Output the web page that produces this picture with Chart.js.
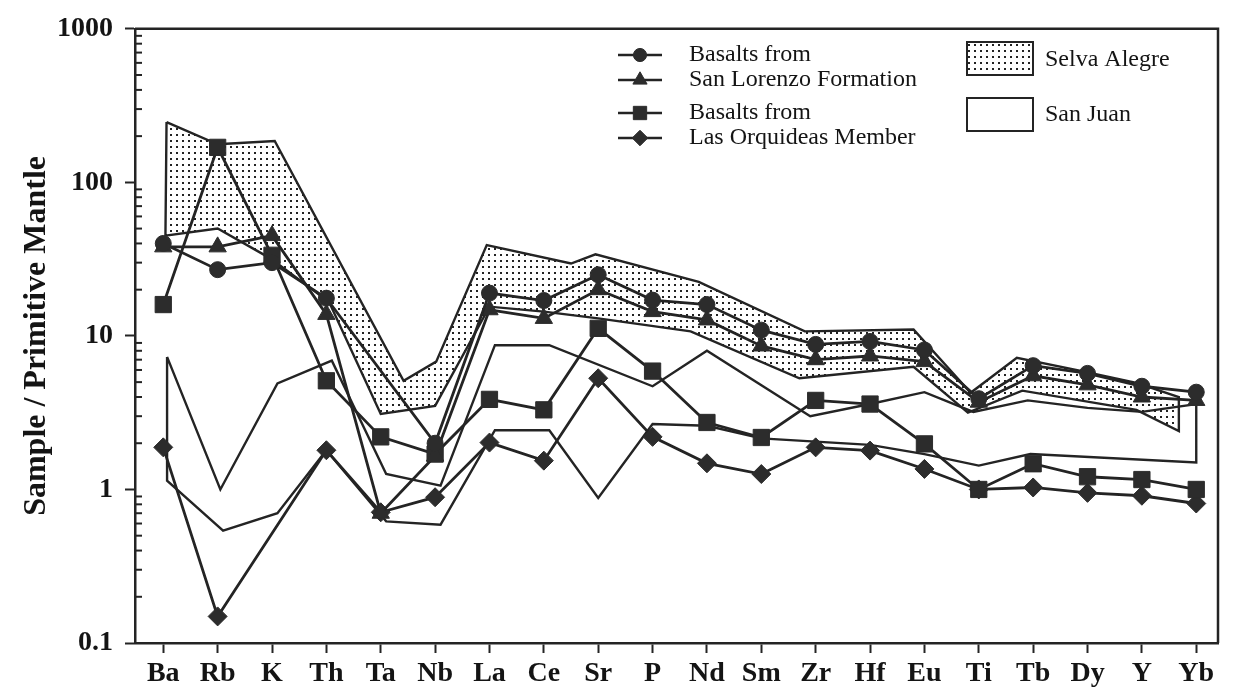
<!DOCTYPE html>
<html>
<head>
<meta charset="utf-8">
<script src="https://cdn.jsdelivr.net/npm/chart.js@4.4.0/dist/chart.umd.min.js"></script>
<style>
  html, body { margin: 0; padding: 0; background: #ffffff; }
  #wrap { width: 1234px; height: 700px; }
</style>
</head>
<body>
<div id="wrap"><canvas id="c" width="1234" height="700"></canvas></div>
<script>
// ---------------- DATA ----------------
const categories = ['Ba','Rb','K','Th','Ta','Nb','La','Ce','Sr','P','Nd','Sm','Zr','Hf','Eu','Ti','Tb','Dy','Y','Yb'];

const yTickValues = [0.1, 1, 10, 100, 1000];
const yTickLabels = ['0.1', '1', '10', '100', '1000'];
const yMinorMultipliers = [2, 3, 4, 5, 6, 7, 8, 9];

// Basalts from San Lorenzo Formation (circles, triangles)
const sanLorenzoCircle   = [40, 27, 30, 17.6, null, 2.0, 19, 17, 25, 17.1, 16, 10.9, 8.8, 9.2, 8.1, 3.9, 6.4, 5.7, 4.7, 4.3];
const sanLorenzoTriangle = [38, 38, 45, 13.8, 0.7, 1.65, 14.8, 13, 20, 14.4, 12.7, 8.6, 7.0, 7.4, 6.8, 3.7, 5.5, 4.8, 4.0, 3.8];
// Basalts from Las Orquideas Member (squares, diamonds)
const orquideasSquare    = [16, 169, 33.5, 5.1, 2.2, 1.7, 3.86, 3.3, 11.2, 5.9, 2.73, 2.18, 3.8, 3.6, 1.98, 1.0, 1.47, 1.21, 1.16, 1.0];
const orquideasDiamond   = [1.88, 0.149, null, 1.8, 0.71, 0.89, 2.02, 1.54, 5.3, 2.2, 1.48, 1.26, 1.88, 1.79, 1.36, 1.0, 1.03, 0.95, 0.91, 0.81];

// Selva Alegre field (category position, value)
const selvaUpperPos = [0.06, 1.0, 2.05, 4.42, 5.02, 5.95, 7.5, 7.95, 9.85, 11.8, 13.8, 14.85, 15.7, 16.9, 17.9, 18.68];
const selvaUpperVal = [247, 177, 186, 5.1, 6.8, 39, 29.6, 34, 22.5, 10.7, 11, 4.26, 7.2, 5.9, 4.95, 4.0];
const selvaLowerPos = [0.04, 1.0, 1.97, 3.05, 4.0, 5.0, 6.0, 7.0, 8.0, 9.7, 11.7, 13.8, 14.8, 15.8, 17.9, 18.68];
const selvaLowerVal = [45, 50, 32, 16.6, 3.1, 3.5, 15.5, 14.4, 13, 10.7, 5.3, 6.3, 3.16, 4.4, 3.3, 2.4];

// San Juan field (category position, value)
const sanJuanUpperPos = [0.07, 1.05, 2.1, 3.1, 4.1, 5.1, 6.1, 7.1, 9.0, 10.0, 11.9, 13.0, 14.0, 14.9, 15.9, 17.0, 18.0, 19.0];
const sanJuanUpperVal = [7.3, 1.0, 4.9, 6.9, 1.26, 1.06, 8.7, 8.7, 4.7, 8.0, 3.0, 3.6, 4.3, 3.2, 3.8, 3.4, 3.2, 3.6];
const sanJuanLowerPos = [0.07, 1.1, 2.1, 3.0, 4.1, 5.1, 6.1, 7.1, 8.0, 9.0, 10.0, 11.0, 12.0, 13.0, 14.0, 15.0, 15.95, 19.0];
const sanJuanLowerVal = [1.14, 0.54, 0.70, 1.8, 0.62, 0.59, 2.43, 2.43, 0.88, 2.67, 2.6, 2.15, 2.05, 1.95, 1.7, 1.43, 1.7, 1.5];

const seriesLegendLabels = ['Basalts from', 'San Lorenzo Formation', 'Basalts from', 'Las Orquideas Member'];
const fieldLegendLabels = ['Selva Alegre', 'San Juan'];
const yAxisTitle = 'Sample / Primitive Mantle';

// ---------------- HELPERS ----------------
const INK = '#242424';
const TEXT = '#141414';
const SERIF = '"Liberation Serif", "Times New Roman", Times, serif';

function toPoints(arr) {
  const pts = [];
  arr.forEach((v, i) => { if (v !== null && v !== undefined) pts.push({ x: i, y: v }); });
  return pts;
}
function polygon(upPos, upVal, loPos, loVal) {
  const pts = upPos.map((p, i) => ({ x: p, y: upVal[i] }));
  for (let i = loPos.length - 1; i >= 0; i--) pts.push({ x: loPos[i], y: loVal[i] });
  pts.push({ x: upPos[0], y: upVal[0] });
  return pts;
}
function isDecade(v) {
  return yTickValues.some(t => Math.abs(Math.log10(t) - Math.log10(v)) < 1e-6);
}

const canvas = document.getElementById('c');
const ctx0 = canvas.getContext('2d');
function makeDotPattern() {
  const t = document.createElement('canvas');
  t.width = 6; t.height = 6;
  const g = t.getContext('2d');
  g.fillStyle = '#222222';
  g.fillRect(2, 2, 2, 2);
  return ctx0.createPattern(t, 'repeat');
}
const dots = makeDotPattern();

const seriesStyle = {
  borderColor: INK, borderWidth: 2.8, tension: 0, fill: false, spanGaps: true,
  pointBackgroundColor: '#2c2c2c', pointBorderColor: '#2c2c2c', pointBorderWidth: 1,
  order: 0
};

const markerDefs = [
  { style: 'circle', r: 8 },
  { style: 'triangle', r: 10 },
  { style: 'rect', r: 11.5 },
  { style: 'rectRot', r: 9.5 }
];

// ---------------- PLUGINS ----------------
const framePlugin = {
  id: 'frame',
  afterDraw(chart) {
    const { ctx, chartArea: a } = chart;
    const ys = chart.scales.y;
    ctx.save();
    ctx.strokeStyle = INK;
    ctx.lineWidth = 2.5;
    ctx.beginPath();
    ctx.moveTo(a.left, a.top); ctx.lineTo(a.right, a.top); ctx.lineTo(a.right, a.bottom);
    ctx.stroke();
    // inner minor ticks on y axis
    ctx.lineWidth = 2;
    ys.ticks.forEach(t => {
      if (isDecade(t.value)) return;
      const y = ys.getPixelForValue(t.value);
      ctx.beginPath(); ctx.moveTo(a.left, y); ctx.lineTo(a.left + 7, y); ctx.stroke();
    });
    ctx.restore();
  }
};

const legendPlugin = {
  id: 'customLegend',
  afterDraw(chart) {
    const ctx = chart.ctx;
    const rows = [55, 80, 113, 138];
    ctx.save();
    ctx.font = '24px ' + SERIF;
    ctx.textBaseline = 'middle';
    rows.forEach((y, i) => {
      ctx.strokeStyle = INK; ctx.lineWidth = 2.5;
      ctx.beginPath(); ctx.moveTo(618, y); ctx.lineTo(662, y); ctx.stroke();
      ctx.fillStyle = '#2c2c2c'; ctx.strokeStyle = '#2c2c2c'; ctx.lineWidth = 1;
      Chart.helpers.drawPoint(ctx, { pointStyle: markerDefs[i].style, radius: markerDefs[i].r * 0.82, borderWidth: 1, rotation: 0 }, 640, y);
      ctx.fillStyle = TEXT;
      ctx.fillText(seriesLegendLabels[i], 689, y);
    });
    // field swatches
    ctx.lineWidth = 2; ctx.strokeStyle = INK;
    ctx.fillStyle = dots;
    ctx.fillRect(967, 42, 66, 33);
    ctx.strokeRect(967, 42, 66, 33);
    ctx.strokeRect(967, 98, 66, 33);
    ctx.fillStyle = TEXT;
    ctx.fillText(fieldLegendLabels[0], 1045, 60);
    ctx.fillText(fieldLegendLabels[1], 1045, 115);
    ctx.restore();
  }
};

// ---------------- CHART ----------------
new Chart(canvas, {
  type: 'line',
  data: {
    datasets: [
      Object.assign({ label: seriesLegendLabels[0] + ' ' + seriesLegendLabels[1] + ' (1)', data: toPoints(sanLorenzoCircle), pointStyle: 'circle', pointRadius: markerDefs[0].r }, seriesStyle),
      Object.assign({ label: seriesLegendLabels[0] + ' ' + seriesLegendLabels[1] + ' (2)', data: toPoints(sanLorenzoTriangle), pointStyle: 'triangle', pointRadius: markerDefs[1].r }, seriesStyle),
      Object.assign({ label: seriesLegendLabels[2] + ' ' + seriesLegendLabels[3] + ' (1)', data: toPoints(orquideasSquare), pointStyle: 'rect', pointRadius: markerDefs[2].r }, seriesStyle),
      Object.assign({ label: seriesLegendLabels[2] + ' ' + seriesLegendLabels[3] + ' (2)', data: toPoints(orquideasDiamond), pointStyle: 'rectRot', pointRadius: markerDefs[3].r }, seriesStyle),
      {
        label: fieldLegendLabels[0],
        data: polygon(selvaUpperPos, selvaUpperVal, selvaLowerPos, selvaLowerVal),
        borderColor: INK, borderWidth: 2.4, backgroundColor: dots, fill: 'shape',
        pointRadius: 0, tension: 0, order: 1
      },
      {
        label: fieldLegendLabels[1],
        data: polygon(sanJuanUpperPos, sanJuanUpperVal, sanJuanLowerPos, sanJuanLowerVal),
        borderColor: INK, borderWidth: 2.4, backgroundColor: 'rgba(0,0,0,0)', fill: false,
        pointRadius: 0, tension: 0, order: 2
      }
    ]
  },
  options: {
    responsive: false,
    animation: false,
    devicePixelRatio: 1,
    layout: { padding: { top: 25, right: 16, left: 0, bottom: 0 } },
    plugins: { legend: { display: false }, tooltip: { enabled: false } },
    scales: {
      x: {
        type: 'linear', min: -0.52, max: 19.4,
        afterBuildTicks: s => { s.ticks = categories.map((c, i) => ({ value: i })); },
        afterFit: s => { s.height = 57; },
        ticks: {
          callback: v => categories[v] !== undefined ? categories[v] : '',
          font: { family: SERIF, weight: 'bold', size: 28 },
          color: TEXT, padding: 4, maxRotation: 0, autoSkip: false
        },
        grid: { drawOnChartArea: false, tickLength: 10, tickWidth: 2, tickColor: INK },
        border: { color: INK, width: 2.5 }
      },
      y: {
        type: 'logarithmic', min: 0.1, max: 1000,
        afterBuildTicks: s => {
          const t = [];
          for (let d = 0; d < yTickValues.length; d++) {
            t.push({ value: yTickValues[d], major: true });
            if (d < yTickValues.length - 1) yMinorMultipliers.forEach(m => t.push({ value: m * yTickValues[d] }));
          }
          s.ticks = t;
        },
        afterFit: s => { s.width = 135; },
        ticks: {
          callback: v => { const i = yTickValues.findIndex(t => Math.abs(Math.log10(t) - Math.log10(v)) < 1e-6); return i >= 0 ? yTickLabels[i] : ''; },
          font: { family: SERIF, weight: 'bold', size: 28 },
          color: TEXT, padding: 12, autoSkip: false
        },
        grid: {
          drawOnChartArea: false, tickLength: 10, tickWidth: 2,
          tickColor: c => (c.tick && isDecade(c.tick.value)) ? INK : 'rgba(0,0,0,0)'
        },
        border: { color: INK, width: 2.5 },
        title: {
          display: true, text: yAxisTitle, color: TEXT,
          font: { family: SERIF, weight: 'bold', size: 32 },
          padding: { top: 18, bottom: 0 }
        }
      }
    }
  },
  plugins: [framePlugin, legendPlugin]
});
</script>
</body>
</html>
